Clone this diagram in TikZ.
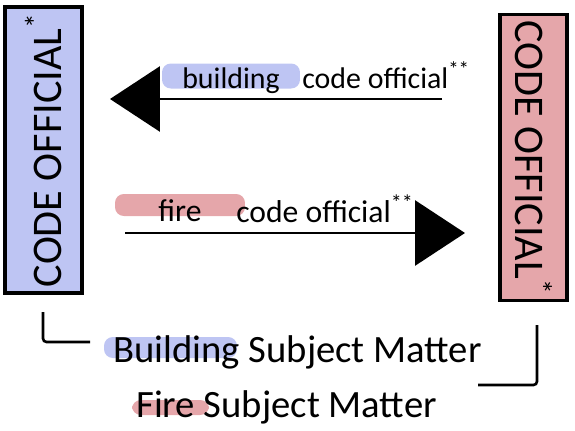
\documentclass[tikz,border=0pt]{standalone}
\usepackage{fontspec}
\setmainfont{Carlito}
\usetikzlibrary{arrows.meta}
\definecolor{bldblue}{RGB}{190,197,243}
\definecolor{firered}{RGB}{229,166,170}
\begin{document}
\begin{tikzpicture}[x=0.02cm, y=-0.02cm,
      >={Triangle[length=1cm, width=1.3cm]},
      official/.style={
        draw=black,
        line width=2.2pt,
        minimum width=5.72cm,
        inner sep=0pt,
        font=\fontsize{24}{26}\selectfont
      },
      handover/.style={
        ->,
        line width=1.7pt
      },
      highlight/.style={
        rounded corners=5pt,
        inner sep=0pt
      },
      scrawl/.style={
        anchor=base,
        inner sep=0pt
      },
      bracket/.style={
        line width=1.5pt,
        rounded corners=2pt
      },
    ]
    \useasboundingbox (0,0) rectangle (575,430);

    \node [official, fill=bldblue, rotate=90, minimum height=1.54cm]
          (bco) at (43.5,150) {CODE OFFICIAL\textsuperscript{*}};
    \node [official, fill=firered, rotate=-90, minimum height=1.34cm]
          (fco) at (533.5,157.5) {CODE OFFICIAL\textsuperscript{*}};

    \coordinate (bStart) at (442,99);
    \coordinate (bEnd) at (110,99);
    \draw [handover] (bStart) -- (bEnd);
    \node [highlight, fill=bldblue, minimum width=2.76cm, minimum height=0.5cm]
          (bHl) at (231,76) {};
    \node [scrawl, font=\fontsize{17}{19}\selectfont] (bWord) at (231,88) {building};
    \node [scrawl, anchor=base west, font=\fontsize{17}{19}\selectfont]
          (bRest) at (302,88) {code official\textsuperscript{**}};

    \coordinate (fStart) at (125,233);
    \coordinate (fEnd) at (465,233);
    \draw [handover] (fStart) -- (fEnd);
    \node [highlight, fill=firered, minimum width=2.6cm, minimum height=0.44cm]
          (fHl) at (180,205) {};
    \node [scrawl, font=\fontsize{18}{20}\selectfont] (fWord) at (180,221) {fire};
    \node [scrawl, anchor=base west, font=\fontsize{18}{20}\selectfont]
          (fRest) at (236,222) {code official\textsuperscript{**}};

    \node [highlight, fill=bldblue, minimum width=2.66cm, minimum height=0.42cm]
          (bsmHl) at (170.5,347.5) {};
    \node [scrawl, anchor=base west, font=\fontsize{22}{24}\selectfont]
          (bsm) at (113,362) {Building Subject Matter};
    \node [highlight, fill=firered, minimum width=1.54cm, minimum height=0.3cm]
          (fsmHl) at (170.5,407.5) {};
    \node [scrawl, anchor=base west, font=\fontsize{22}{24}\selectfont]
          (fsm) at (136,417) {Fire Subject Matter};

    \coordinate (lbTop) at (43,312);
    \coordinate (lbEnd) at (90,342);
    \draw [bracket] (lbTop) |- (lbEnd);
    \coordinate (rbTop) at (537,325);
    \coordinate (rbEnd) at (478,385);
    \draw [bracket] (rbTop) |- (rbEnd);
\end{tikzpicture}
\end{document}
